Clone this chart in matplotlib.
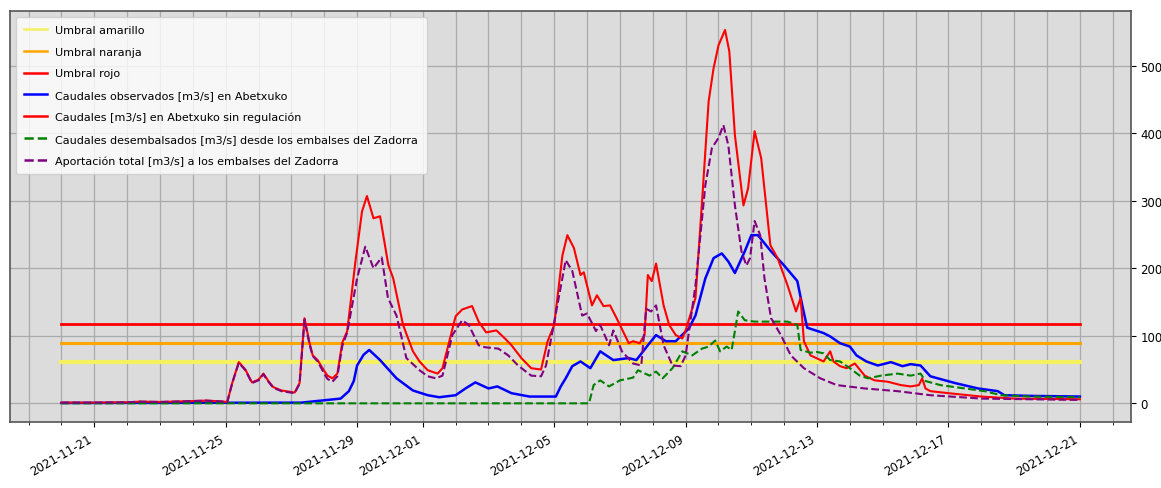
import numpy as np
import pandas as pd
import matplotlib
matplotlib.use("Agg")
import matplotlib.pyplot as plt
import matplotlib.dates as mdates

# thresholds [m3/s]
umbral_amarillo = 61
umbral_naranja = 90
umbral_rojo = 117
start = pd.Timestamp("2021-11-20")
end = pd.Timestamp("2021-12-21")

# observed flow at Abetxuko (days since 2021-11-20, m3/s)
obs_days = [0, 7.3, 7.9, 8.5, 8.75, 8.9, 9.0, 9.2, 9.37, 9.7, 10.2, 10.7, 11.15, 11.5, 12.0, 12.3,
            12.6, 13.0, 13.27, 13.7, 14.25, 15.05, 15.2, 15.35, 15.55, 15.8, 16.1, 16.4, 16.8, 17.27,
            17.5, 17.85, 18.1, 18.4, 18.7, 19.1, 19.3, 19.6, 19.85, 20.1, 20.3, 20.5, 20.8, 21.0,
            21.2, 21.6, 22.0, 22.4, 22.55, 22.7, 23.2, 23.4, 23.7, 24.0, 24.2, 24.5, 24.85, 25.25,
            25.6, 25.85, 26.15, 26.45, 27.2, 27.9, 28.5, 28.7, 29.5, 31]
obs_vals = [0.5, 1, 4, 7, 18, 33, 56, 72, 79, 64, 37, 19, 12, 9, 12, 22,
            31, 22, 25, 15, 10, 10, 25, 37, 55, 62, 52, 77, 64, 67,
            64, 86, 101, 92, 92, 111, 130, 185, 215, 222, 210, 193, 225, 249,
            249, 225, 204, 181, 145, 112, 104, 99, 89, 84, 71, 62, 56, 61,
            55, 58, 56, 40, 30, 22, 18, 12, 11, 10]

# flow at Abetxuko without regulation
nat_days = [0, 1, 2, 2.4, 3, 3.8, 4.4, 4.8, 5.05, 5.2, 5.4, 5.6, 5.8, 6.0, 6.15, 6.3, 6.45, 6.7,
            7.1, 7.25, 7.4, 7.55, 7.65, 7.8, 8.0, 8.1, 8.25, 8.4, 8.55, 8.7, 8.95, 9.15, 9.3, 9.5,
            9.7, 9.95, 10.1, 10.4, 10.7, 10.9, 11.15, 11.45, 11.6, 12.0, 12.2, 12.5, 12.7, 12.93,
            13.24, 13.5, 13.7, 14.0, 14.3, 14.6, 14.8, 15.0, 15.25, 15.4, 15.6, 15.8, 15.9, 16.15,
            16.3, 16.5, 16.7, 16.9, 17.27, 17.4, 17.6, 17.75, 17.85, 17.97, 18.1, 18.33, 18.5, 18.7,
            18.9, 19.0, 19.3, 19.5, 19.7, 19.85, 20.0, 20.2, 20.33, 20.5, 20.76, 20.9, 21.1, 21.3,
            21.58, 21.8, 22.1, 22.36, 22.5, 22.6, 22.8, 23.2, 23.4, 23.5, 23.7, 23.9, 24.15, 24.45,
            24.75, 25.15, 25.55, 25.85, 26.1, 26.2, 26.3, 26.45, 27.0, 28.0, 29.0, 31]
nat_vals = [1, 1, 1.5, 2.5, 2, 3, 4, 3, 2, 30, 61, 50, 31, 35, 44, 33, 24, 19,
            16, 30, 126, 90, 71, 64, 48, 41, 37, 44, 90, 107, 210, 284, 307, 274,
            277, 205, 185, 116, 77, 62, 49, 44, 52, 129, 139, 144, 121, 105,
            108, 96, 86, 67, 52, 50, 92, 116, 219, 249, 230, 190, 194, 145,
            160, 144, 145, 126, 89, 92, 89, 101, 190, 181, 207, 145, 116, 101,
            96, 108, 156, 299, 447, 496, 530, 553, 521, 397, 293, 318, 403, 363,
            234, 215, 175, 136, 156, 92, 71, 62, 77, 62, 55, 52, 59, 41,
            34, 32, 27, 25, 27, 37, 22, 18, 15, 10, 7, 6]

# releases from the Zadorra reservoirs
rel_days = [0, 16.06, 16.2, 16.4, 16.67, 17.0, 17.4, 17.55, 17.9, 18.1, 18.3, 18.6, 18.9, 19.2,
            19.5, 19.7, 19.9, 20.05, 20.25, 20.4, 20.5, 20.6, 20.8, 21.1, 21.6, 22.1, 22.4, 22.5,
            22.8, 23.0, 23.2, 23.4, 23.7, 24.0, 24.3, 24.55, 24.95, 25.45, 25.85, 26.15, 26.3,
            26.75, 27.5, 28.1, 28.6, 29.5, 31]
rel_vals = [0, 0, 27, 34, 25, 34, 38, 49, 41, 47, 37, 52, 77, 71,
            81, 84, 93, 77, 84, 79, 107, 136, 123, 121, 121, 121, 116, 79,
            75, 76, 74, 64, 62, 52, 41, 37, 41, 44, 41, 44, 33,
            27, 22, 18, 12, 10, 9]

# total inflow to the Zadorra reservoirs
inf_days = [0, 1, 2, 2.4, 3, 3.8, 4.4, 4.8, 5.05, 5.2, 5.4, 5.6, 5.8, 6.0, 6.15, 6.3, 6.45, 6.7,
            7.1, 7.25, 7.4, 7.55, 7.65, 7.8, 8.0, 8.1, 8.25, 8.4, 8.55, 8.7, 9.0, 9.25, 9.5, 9.75,
            9.94, 10.2, 10.5, 10.9, 11.15, 11.4, 11.6, 11.9, 12.2, 12.4, 12.7, 12.9, 13.3, 13.6,
            13.9, 14.3, 14.6, 14.75, 14.95, 15.35, 15.55, 15.85, 16.0, 16.27, 16.4, 16.67, 16.8,
            17.06, 17.4, 17.65, 17.8, 17.95, 18.1, 18.33, 18.6, 18.85, 19.0, 19.3, 19.6, 19.8,
            20.0, 20.15, 20.3, 20.5, 20.7, 20.85, 20.96, 21.1, 21.27, 21.4, 21.6, 21.9, 22.2,
            22.6, 23.1, 23.6, 24.45, 25.45, 26.45, 28, 31]
inf_vals = [1, 1, 1.5, 2.5, 2, 3, 4, 3, 2, 30, 60, 49, 30, 34, 43, 32, 23, 18,
            15, 29, 124, 88, 70, 62, 44, 36, 32, 40, 85, 105, 185, 232, 200, 216,
            156, 130, 67, 49, 40, 37, 41, 101, 123, 116, 86, 83, 81, 71,
            56, 41, 40, 56, 107, 212, 196, 130, 133, 107, 116, 86, 108,
            77, 59, 56, 140, 136, 145, 86, 56, 55, 71, 175, 323, 378,
            393, 412, 382, 293, 225, 204, 215, 270, 249, 185, 126, 101, 71,
            52, 37, 27, 22, 18, 12, 7, 5]


def to_dates(days):
    return start + pd.to_timedelta(np.array(days), unit="D")


plt.rcParams["font.family"] = "DejaVu Sans"
plt.rcParams["font.size"] = 8.5

fig, ax = plt.subplots(figsize=(11.61, 4.89), dpi=100)
fig.subplots_adjust(left=0.009, right=0.974, top=0.975, bottom=0.135)
ax.set_facecolor("#dcdcdc")

span = [start, end]
ax.plot(span, [umbral_amarillo] * 2, color="#f4f060", lw=3, label="Umbral amarillo")
ax.plot(span, [umbral_naranja] * 2, color="orange", lw=2.2, label="Umbral naranja")
ax.plot(span, [umbral_rojo] * 2, color="red", lw=2, label="Umbral rojo")
ax.plot(to_dates(obs_days), obs_vals, color="blue", lw=1.8,
        label="Caudales observados [m3/s] en Abetxuko")
ax.plot(to_dates(nat_days), nat_vals, color="red", lw=1.5,
        label="Caudales [m3/s] en Abetxuko sin regulación")
ax.plot(to_dates(rel_days), rel_vals, color="green", lw=1.5, ls="--",
        label="Caudales desembalsados [m3/s] desde los embalses del Zadorra")
ax.plot(to_dates(inf_days), inf_vals, color="purple", lw=1.5, ls="--",
        label="Aportación total [m3/s] a los embalses del Zadorra")

ax.yaxis.tick_right()
ax.xaxis.set_major_locator(mdates.DayLocator(bymonthday=range(1, 32, 4)))
ax.xaxis.set_major_formatter(mdates.DateFormatter("%Y-%m-%d"))
ax.xaxis.set_minor_locator(mdates.DayLocator())
ax.grid(which="both", color="#aaaaaa", lw=0.9)
for lab in ax.get_xticklabels():
    lab.set_rotation(30)
    lab.set_ha("right")
for s in ax.spines.values():
    s.set_color("#555555")
    s.set_linewidth(1.2)

leg = ax.legend(loc="upper left", fontsize=8, labelspacing=1.05, borderpad=0.75)
for line in leg.get_lines():
    line.set_linewidth(1.8)
fig.savefig("out.png", dpi=100)
